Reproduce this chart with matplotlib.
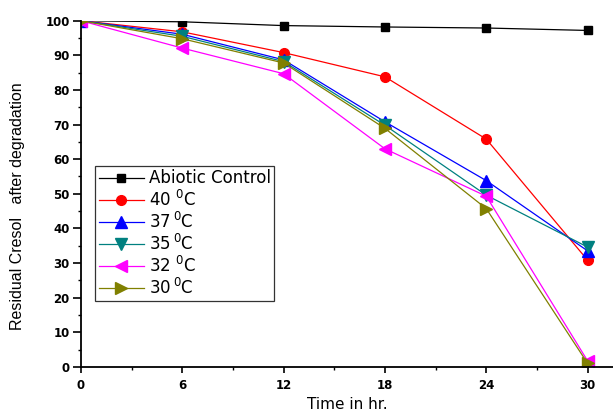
import matplotlib
matplotlib.use("Agg")
import matplotlib.pyplot as plt
from matplotlib.ticker import MultipleLocator

plt.rcParams['font.family'] = ['DejaVu Sans']
plt.rcParams['mathtext.fontset'] = 'dejavusans'

## Residual cresol (%) over time at different temperatures
time_hr = [0, 6, 12, 18, 24, 30]
abiotic = [100, 99.7, 98.6, 98.2, 97.9, 97.2]
t40 = [100, 96.8, 90.8, 83.8, 65.8, 30.8]
t37 = [100, 96.1, 88.7, 70.8, 53.8, 33.5]
t35 = [100, 95.5, 88.2, 69.8, 49.6, 34.6]
t32 = [100, 92.1, 84.7, 63.0, 49.3, 1.7]
t30 = [100, 94.8, 87.8, 68.9, 45.7, 1.0]

labels = ["Abiotic Control", "40 $^{0}$C", "37$\\,^{0}$C", "35$\\,^{0}$C",
          "32 $^{0}$C", "30$\\,^{0}$C"]
colors = ["black", "red", "blue", "#008080", "magenta", "#808000"]
markers = ["s", "o", "^", "v", "<", ">"]
sizes = [6, 7, 8, 8, 8, 8]

fig = plt.figure(figsize=(6.13, 4.15), dpi=100)
ax = fig.add_axes([0.132, 0.116, 0.868, 0.834])

for ys, lab, c, m, ms in zip([abiotic, t40, t37, t35, t32, t30], labels, colors, markers, sizes):
    ax.plot(time_hr, ys, color=c, marker=m, markersize=ms, linewidth=0.9, label=lab)

ax.set_xlim(0, 31.5)
ax.set_ylim(0, 100)
ax.xaxis.set_major_locator(MultipleLocator(6))
ax.xaxis.set_minor_locator(MultipleLocator(3))
ax.yaxis.set_major_locator(MultipleLocator(10))
ax.yaxis.set_minor_locator(MultipleLocator(5))

ax.spines['top'].set_visible(False)
ax.spines['right'].set_visible(False)
ax.spines['left'].set_linewidth(1.3)
ax.spines['bottom'].set_linewidth(1.3)
ax.tick_params(axis='y', which='major', length=5.5, pad=2.5)
ax.tick_params(axis='x', which='major', length=4.5, pad=4)
ax.tick_params(which='major', direction='out', width=1.2, labelsize=8.5)
ax.tick_params(which='minor', direction='out', length=2.5, width=1.0)
for t in ax.get_xticklabels() + ax.get_yticklabels():
    t.set_fontweight('bold')

ax.set_xlabel("Time in hr.", fontsize=11, labelpad=4)
ax.set_ylabel("Residual Cresol   after degradation", fontsize=11.5,
              family='Liberation Sans')
ax.yaxis.set_label_coords(-0.105, 0.465)

leg = ax.legend(loc='upper left', bbox_to_anchor=(0.027, 0.58), fontsize=12,
                frameon=True, fancybox=False, edgecolor='black', borderpad=0.2,
                labelspacing=0.12, handlelength=2.7, handletextpad=0.3, borderaxespad=0)
leg.get_frame().set_linewidth(0.9)

fig.savefig("out.png", dpi=100)
